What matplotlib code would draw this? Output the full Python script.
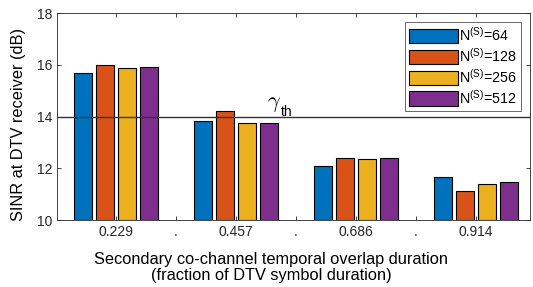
import matplotlib
matplotlib.use("Agg")
import matplotlib.pyplot as plt
import numpy as np

plt.rcParams['font.family'] = ['Liberation Sans', 'DejaVu Sans']
plt.rcParams['mathtext.fontset'] = 'custom'
plt.rcParams['mathtext.rm'] = 'Liberation Sans'
plt.rcParams['mathtext.it'] = 'Liberation Sans:italic'

tick_labels = ['0.229', '.', '0.457', '.', '0.686', '.', '0.914']
series_labels = [r'N$^{\mathrm{(S)}}$=64', r'N$^{\mathrm{(S)}}$=128',
                 r'N$^{\mathrm{(S)}}$=256', r'N$^{\mathrm{(S)}}$=512']
n64 = [15.70, 13.82, 12.10, 11.68]
n128 = [15.99, 14.21, 12.41, 11.12]
n256 = [15.87, 13.76, 12.36, 11.38]
n512 = [15.93, 13.74, 12.40, 11.47]
gamma_th = 14.0
colors = ['#0072BD', '#D95319', '#EDB120', '#7E2F8E']

fig = plt.figure(figsize=(5.33, 2.87), dpi=100)
ax = fig.add_axes([0.1075, 0.2334, 0.9944 - 0.1075, 0.9537 - 0.2334])

group_pos = np.array([1, 3, 5, 7])
offsets = [-0.545, -0.182, 0.182, 0.545]
for vals, off, c, lab in zip([n64, n128, n256, n512], offsets, colors, series_labels):
    ax.bar(group_pos + off, np.array(vals) - 10, bottom=10, width=0.30, color=c,
           edgecolor='black', linewidth=0.8, label=lab, zorder=2)

ax.axhline(gamma_th, color='#333333', linewidth=1.0, zorder=3)
ax.text(3.52, 14.12, r'$\gamma$', fontsize=16, ha='left', va='bottom',
        math_fontfamily='cm')
ax.text(3.745, 14.03, 'th', fontsize=10, ha='left', va='baseline')

ax.set_xlim(0.02, 7.9)
ax.set_ylim(10, 18)
ax.set_xticks(np.arange(1, 8))
ax.set_xticklabels(tick_labels)
ax.set_yticks([10, 12, 14, 16, 18])
ax.tick_params(direction='in', top=True, right=True, labelsize=10, colors='#262626',
               length=3, width=0.6)
for s in ax.spines.values():
    s.set_color('#262626')
    s.set_linewidth(0.6)
ax.set_ylabel('SINR at DTV receiver (dB)', fontsize=11.8)
ax.set_xlabel('Secondary co-channel temporal overlap duration\n(fraction of DTV symbol duration)',
              fontsize=11.8, linespacing=1.1)
ax.yaxis.set_label_coords(-0.066, 0.46)
ax.xaxis.set_label_coords(0.453, -0.155)

leg = ax.legend(loc='upper right', fontsize=10.3, frameon=True, fancybox=False,
                edgecolor='#262626', handlelength=3.4, handleheight=1.15,
                labelspacing=0.2, handletextpad=0.12, borderpad=0.3,
                borderaxespad=0.6)
leg.get_frame().set_linewidth(0.6)

fig.savefig('out.png', dpi=100)
